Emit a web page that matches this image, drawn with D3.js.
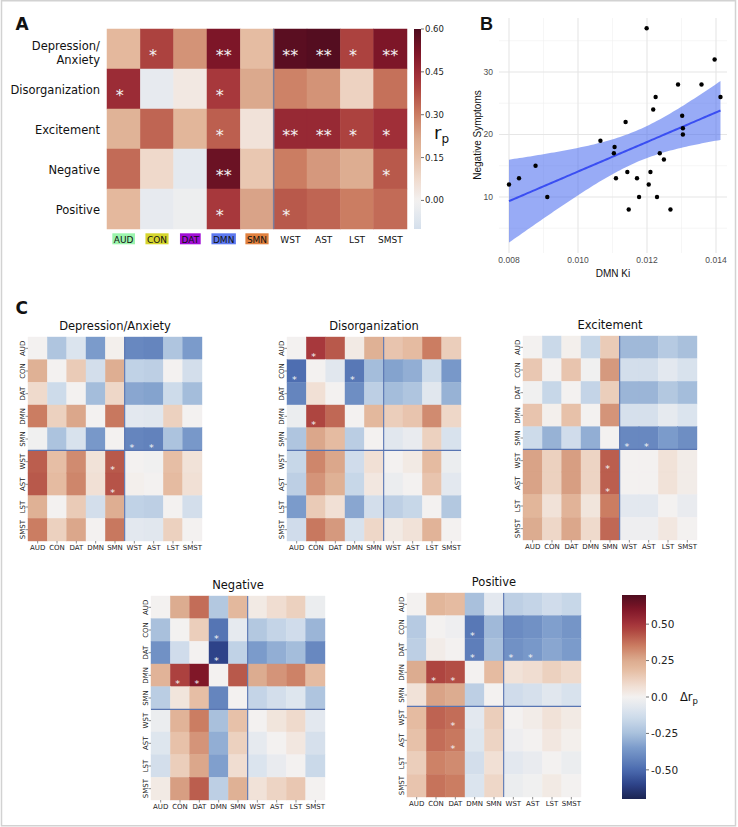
<!DOCTYPE html>
<html><head><meta charset="utf-8">
<script src="https://cdn.jsdelivr.net/npm/d3@7"></script>
<style>body{margin:0;background:#fff}svg{display:block}</style>
</head><body>
<svg id="c" width="738" height="827"></svg>
<script>
// ---------------- DATA ----------------
const networks = ["AUD","CON","DAT","DMN","SMN","WST","AST","LST","SMST"];
const symptoms = ["Depression/Anxiety","Disorganization","Excitement","Negative","Positive"];

// Panel A: partial correlations r_p (rows = symptoms, cols = networks)
const rpDepression      = [0.17, 0.40, 0.26, 0.52, 0.16, 0.58, 0.59, 0.40, 0.52];
const rpDisorganization = [0.45,-0.04, 0.03, 0.42, 0.22, 0.29, 0.26, 0.10, 0.32];
const rpExcitement      = [0.19, 0.34, 0.18, 0.35, 0.05, 0.46, 0.46, 0.40, 0.44];
const rpNegative        = [0.33, 0.08,-0.05, 0.55, 0.13, 0.30, 0.25, 0.21, 0.36];
const rpPositive        = [0.17,-0.04,-0.02, 0.42, 0.23, 0.36, 0.34, 0.30, 0.33];
const starsDepression      = ["","*","","**","","**","**","*","**"];
const starsDisorganization = ["*","","","*","","","","",""];
const starsExcitement      = ["","","","*","","**","**","*","*"];
const starsNegative        = ["","","","**","","","","","*"];
const starsPositive        = ["","","","*","","*","","",""];
const rpTickValues = [0.60, 0.45, 0.30, 0.15, 0.00];
const rpTickLabels = ["0.60","0.45","0.30","0.15","0.00"];

// Panel B: scatter
const dmnKi = [0.00800,0.00829,0.00877,0.00911,0.01065,0.01106,0.01104,0.01110,0.01138,0.01143,0.01147,0.01171,0.01177,0.01199,0.01205,0.01210,0.01218,0.01225,0.01229,0.01237,0.01249,0.01268,0.01290,0.01302,0.01304,0.01304,0.01358,0.01396,0.01413];
const negSymptoms = [12,13,15,10,19,18,17,13,22,14,8,13,10,37,12,14,24,26,10,17,16,8,28,23,21,20,28,32,26];
const bXTicks = [0.008, 0.010, 0.012, 0.014];
const bXTickLabels = ["0.008","0.010","0.012","0.014"];
const bXMinor = [0.009, 0.011, 0.013];
const bYTicks = [10, 20, 30];
const bYMinor = [5, 15, 25, 35];

// Panel C: differences in r_p between networks (row minus column)
const deltaDepression = [
 [ 0.00,-0.23,-0.09,-0.35, 0.01,-0.41,-0.42,-0.23,-0.35],
 [ 0.23, 0.00, 0.14,-0.12, 0.24,-0.18,-0.19, 0.00,-0.12],
 [ 0.09,-0.14, 0.00,-0.26, 0.10,-0.32,-0.33,-0.14,-0.26],
 [ 0.35, 0.12, 0.26, 0.00, 0.36,-0.06,-0.07, 0.12, 0.00],
 [-0.01,-0.24,-0.10,-0.36, 0.00,-0.42,-0.43,-0.24,-0.36],
 [ 0.41, 0.18, 0.32, 0.06, 0.42, 0.00,-0.01, 0.18, 0.06],
 [ 0.42, 0.19, 0.33, 0.07, 0.43, 0.01, 0.00, 0.19, 0.07],
 [ 0.23, 0.00, 0.14,-0.12, 0.24,-0.18,-0.19, 0.00,-0.12],
 [ 0.35, 0.12, 0.26, 0.00, 0.36,-0.06,-0.07, 0.12, 0.00]];
const deltaDisorganization = [
 [ 0.00, 0.49, 0.42, 0.03, 0.23, 0.16, 0.19, 0.35, 0.13],
 [-0.49, 0.00,-0.07,-0.46,-0.26,-0.33,-0.30,-0.14,-0.36],
 [-0.42, 0.07, 0.00,-0.39,-0.19,-0.26,-0.23,-0.07,-0.29],
 [-0.03, 0.46, 0.39, 0.00, 0.20, 0.13, 0.16, 0.32, 0.10],
 [-0.23, 0.26, 0.19,-0.20, 0.00,-0.07,-0.04, 0.12,-0.10],
 [-0.16, 0.33, 0.26,-0.13, 0.07, 0.00, 0.03, 0.19,-0.03],
 [-0.19, 0.30, 0.23,-0.16, 0.04,-0.03, 0.00, 0.16,-0.06],
 [-0.35, 0.14, 0.07,-0.32,-0.12,-0.19,-0.16, 0.00,-0.22],
 [-0.13, 0.36, 0.29,-0.10, 0.10, 0.03, 0.06, 0.22, 0.00]];
const deltaExcitement = [
 [ 0.00,-0.15, 0.01,-0.16, 0.14,-0.27,-0.27,-0.21,-0.25],
 [ 0.15, 0.00, 0.16,-0.01, 0.29,-0.12,-0.12,-0.06,-0.10],
 [-0.01,-0.16, 0.00,-0.17, 0.13,-0.28,-0.28,-0.22,-0.26],
 [ 0.16, 0.01, 0.17, 0.00, 0.30,-0.11,-0.11,-0.05,-0.09],
 [-0.14,-0.29,-0.13,-0.30, 0.00,-0.41,-0.41,-0.35,-0.39],
 [ 0.27, 0.12, 0.28, 0.11, 0.41, 0.00, 0.00, 0.06, 0.02],
 [ 0.27, 0.12, 0.28, 0.11, 0.41, 0.00, 0.00, 0.06, 0.02],
 [ 0.21, 0.06, 0.22, 0.05, 0.35,-0.06,-0.06, 0.00,-0.04],
 [ 0.25, 0.10, 0.26, 0.09, 0.39,-0.02,-0.02, 0.04, 0.00]];
const deltaNegative = [
 [ 0.00, 0.25, 0.38,-0.22, 0.20, 0.03, 0.08, 0.12,-0.03],
 [-0.25, 0.00, 0.13,-0.47,-0.05,-0.22,-0.17,-0.13,-0.28],
 [-0.38,-0.13, 0.00,-0.60,-0.18,-0.35,-0.30,-0.26,-0.41],
 [ 0.22, 0.47, 0.60, 0.00, 0.42, 0.25, 0.30, 0.34, 0.19],
 [-0.20, 0.05, 0.18,-0.42, 0.00,-0.17,-0.12,-0.08,-0.23],
 [-0.03, 0.22, 0.35,-0.25, 0.17, 0.00, 0.05, 0.09,-0.06],
 [-0.08, 0.17, 0.30,-0.30, 0.12,-0.05, 0.00, 0.04,-0.11],
 [-0.12, 0.13, 0.26,-0.34, 0.08,-0.09,-0.04, 0.00,-0.15],
 [ 0.03, 0.28, 0.41,-0.19, 0.23, 0.06, 0.11, 0.15, 0.00]];
const deltaPositive = [
 [ 0.00, 0.21, 0.19,-0.25,-0.06,-0.19,-0.17,-0.13,-0.16],
 [-0.21, 0.00,-0.02,-0.46,-0.27,-0.40,-0.38,-0.34,-0.37],
 [-0.19, 0.02, 0.00,-0.44,-0.25,-0.38,-0.36,-0.32,-0.35],
 [ 0.25, 0.46, 0.44, 0.00, 0.19, 0.06, 0.08, 0.12, 0.09],
 [ 0.06, 0.27, 0.25,-0.19, 0.00,-0.13,-0.11,-0.07,-0.10],
 [ 0.19, 0.40, 0.38,-0.06, 0.13, 0.00, 0.02, 0.06, 0.03],
 [ 0.17, 0.38, 0.36,-0.08, 0.11,-0.02, 0.00, 0.04, 0.01],
 [ 0.13, 0.34, 0.32,-0.12, 0.07,-0.06,-0.04, 0.00,-0.03],
 [ 0.16, 0.37, 0.35,-0.09, 0.10,-0.03,-0.01, 0.03, 0.00]];
const starsDeltaDepression = [[4,5],[4,6],[5,4],[6,4]];
const starsDeltaDisorganization = [[0,1],[1,0],[1,3],[3,1]];
const starsDeltaExcitement = [[4,5],[4,6],[5,4],[6,4]];
const starsDeltaNegative = [[1,3],[2,3],[3,1],[3,2]];
const starsDeltaPositive = [[1,3],[2,3],[2,5],[2,6],[3,1],[3,2],[5,2],[6,2]];
const deltaTickValues = [0.50, 0.25, 0.00, -0.25, -0.50];
const deltaTickLabels = ["0.50","0.25","0.0","-0.25","-0.50"];

// ---------------- STYLE ----------------
const FONT = "'DejaVu Sans', sans-serif";
const RFONT = "'Liberation Sans', Arial, sans-serif";
const stopT = [0,0.07,0.14,0.25,0.32,0.39,0.44,0.5,0.56,0.64,0.68,0.75,0.82,0.86,0.93,1];
const stopC = ["#1b2452","#2d4288","#4a6aae","#7b9bcb","#a8c0dc","#c9d8e9","#dde5ee","#f3f1f0",
               "#f0dccf","#e4b99e","#dcab8f","#cb7d62","#b14a42","#a3323a","#7f1628","#4e0c1f"];
function cmap(vmax){
  return d3.scaleLinear().domain(stopT.map(t=>-vmax+2*vmax*t)).range(stopC)
    .interpolate(d3.interpolateRgb).clamp(true);
}
const netBg = {AUD:"#9cf5ad", CON:"#d6d62e", DAT:"#a20fd6", DMN:"#5d79ef", SMN:"#e0813f"};

const svg = d3.select("#c");
const defs = svg.append("defs");
svg.append("rect").attr("x",1.5).attr("y",0.75).attr("width",734).attr("height",825)
  .attr("fill","none").attr("stroke","#d2d2d2").attr("stroke-width",1.5);

function gradient(id, scale, lo, hi){
  const g = defs.append("linearGradient").attr("id",id)
    .attr("x1",0).attr("y1",1).attr("x2",0).attr("y2",0);
  d3.range(41).forEach(i=>{
    const v = lo + (hi-lo)*i/40;
    g.append("stop").attr("offset",(i/40*100)+"%").attr("stop-color",scale(v));
  });
}

// ---------------- PANEL A ----------------
(function(){
  const colA = cmap(0.6);
  const rows = [rpDepression, rpDisorganization, rpExcitement, rpNegative, rpPositive];
  const stars = [starsDepression, starsDisorganization, starsExcitement, starsNegative, starsPositive];
  const x = d3.scaleBand().domain(networks).range([107,407]);
  const y = d3.scaleBand().domain(symptoms).range([29,229]);
  const g = svg.append("g");
  symptoms.forEach((s,i)=>networks.forEach((n,j)=>{
    const c = colA(rows[i][j]);
    g.append("rect").attr("x",x(n)).attr("y",y(s)).attr("width",x.bandwidth()).attr("height",y.bandwidth())
      .attr("fill",c).attr("stroke",c).attr("stroke-width",0.5);
  }));
  symptoms.forEach((s,i)=>networks.forEach((n,j)=>{
    const st = stars[i][j]; if(!st) return;
    const fs = 16;
    const cx = x(n)+x.bandwidth()/2 - (st.length===1 ? 0.25*fs : 0);
    const cy = y(s)+y.bandwidth()/2 + 3 + 0.55*fs;
    g.append("text").attr("x",cx).attr("y",cy).attr("text-anchor","middle")
      .attr("font-family",FONT).attr("font-size",fs).attr("fill","#f4f4f4").text(st);
  }));
  // separator
  g.append("line").attr("x1",x("WST")).attr("x2",x("WST")).attr("y1",29).attr("y2",229)
    .attr("stroke","#7b7e9c").attr("stroke-width",1.5);
  // y labels
  symptoms.forEach(s=>{
    const cy = y(s)+y.bandwidth()/2;
    if(s==="Depression/Anxiety"){
      g.append("text").attr("x",100).attr("y",50).attr("text-anchor","end").attr("font-family",FONT).attr("font-size",11.5).attr("fill","#111").text("Depression/");
      g.append("text").attr("x",100).attr("y",63.5).attr("text-anchor","end").attr("font-family",FONT).attr("font-size",11.5).attr("fill","#111").text("Anxiety");
    } else {
      g.append("text").attr("x",100).attr("y",cy+5).attr("text-anchor","end").attr("font-family",FONT).attr("font-size",11.5).attr("fill","#111").text(s);
    }
  });
  // x labels
  networks.forEach(n=>{
    const cx = x(n)+x.bandwidth()/2;
    const t = g.append("text").attr("x",cx).attr("y",242.5).attr("text-anchor","middle")
      .attr("font-family",FONT).attr("font-size",9).attr("fill","#111").text(n);
    if(netBg[n]){
      const w = t.node().getComputedTextLength()+3;
      g.insert("rect","text").attr("x",cx-w/2).attr("y",233.3).attr("width",w).attr("height",11)
        .attr("fill",netBg[n]);
    }
  });
  // colorbar
  gradient("gA", colA, -0.1, 0.6);
  const cy = d3.scaleLinear().domain([-0.1,0.6]).range([229,29]);
  g.append("rect").attr("x",414).attr("y",29).attr("width",7).attr("height",200).attr("fill","url(#gA)");
  rpTickValues.forEach((v,i)=>{
    g.append("line").attr("x1",421).attr("x2",424).attr("y1",cy(v)).attr("y2",cy(v)).attr("stroke","#333").attr("stroke-width",0.7);
    g.append("text").attr("x",425).attr("y",cy(v)).attr("dy","0.35em").attr("font-family",FONT)
      .attr("font-size",8.5).attr("fill","#222").text(rpTickLabels[i]);
  });
  const rl = g.append("text").attr("x",434).attr("y",139).attr("font-family",FONT).attr("font-size",18).attr("fill","#111");
  rl.append("tspan").text("r");
  rl.append("tspan").attr("font-size",12).attr("dy",4).text("p");
  svg.append("text").attr("x",15.5).attr("y",29.5).attr("font-family",FONT).attr("font-weight","bold")
    .attr("font-size",17).attr("fill","#111").text("A");
})();

// ---------------- PANEL B ----------------
(function(){
  const x = d3.scaleLinear().domain([0.008,0.014]).range([509,716]);
  const y = d3.scaleLinear().domain([10,30]).range([197,72]);
  const L=499, R=727, T=18, B=253;
  const g = svg.append("g");
  bXMinor.forEach(v=>g.append("line").attr("x1",x(v)).attr("x2",x(v)).attr("y1",T).attr("y2",B).attr("stroke","#f0f0f0").attr("stroke-width",0.6));
  bYMinor.forEach(v=>g.append("line").attr("x1",L).attr("x2",R).attr("y1",y(v)).attr("y2",y(v)).attr("stroke","#f0f0f0").attr("stroke-width",0.6));
  bXTicks.forEach(v=>g.append("line").attr("x1",x(v)).attr("x2",x(v)).attr("y1",T).attr("y2",B).attr("stroke","#e6e6e6").attr("stroke-width",1.1));
  bYTicks.forEach(v=>g.append("line").attr("x1",L).attr("x2",R).attr("y1",y(v)).attr("y2",y(v)).attr("stroke","#e6e6e6").attr("stroke-width",1.1));
  // linear fit with 95% CI
  const n = dmnKi.length;
  const mx = d3.mean(dmnKi), my = d3.mean(negSymptoms);
  let sxx=0, sxy=0;
  dmnKi.forEach((xi,i)=>{ sxx += (xi-mx)**2; sxy += (xi-mx)*(negSymptoms[i]-my); });
  const b = sxy/sxx, a = my - b*mx;
  let rss=0; dmnKi.forEach((xi,i)=>{ rss += (negSymptoms[i]-(a+b*xi))**2; });
  const s = Math.sqrt(rss/(n-2)), tq = 2.052;
  const x0 = d3.min(dmnKi), x1 = d3.max(dmnKi);
  const grid = d3.range(81).map(i=>x0+(x1-x0)*i/80);
  const band = grid.map(xv=>{ const f=a+b*xv; const se=s*Math.sqrt(1/n+(xv-mx)**2/sxx); return [xv,f-tq*se,f+tq*se]; });
  g.append("path").datum(band).attr("d",d3.area().x(d=>x(d[0])).y0(d=>y(d[1])).y1(d=>y(d[2])))
    .attr("fill","#4466ee").attr("fill-opacity",0.55);
  g.append("path").datum(grid).attr("d",d3.line().x(d=>x(d)).y(d=>y(a+b*d)))
    .attr("fill","none").attr("stroke","#3a4ef2").attr("stroke-width",2);
  dmnKi.forEach((xi,i)=>g.append("circle").attr("cx",x(xi)).attr("cy",y(negSymptoms[i])).attr("r",2.2).attr("fill","#000"));
  bXTicks.forEach((v,i)=>g.append("text").attr("x",x(v)).attr("y",260).attr("dy","0.35em").attr("text-anchor","middle")
    .attr("font-family",RFONT).attr("font-size",8.5).attr("fill","#4d4d4d").text(bXTickLabels[i]));
  bYTicks.forEach(v=>g.append("text").attr("x",493).attr("y",y(v)).attr("dy","0.35em").attr("text-anchor","end")
    .attr("font-family",RFONT).attr("font-size",8.5).attr("fill","#4d4d4d").text(v));
  g.append("text").attr("x",(L+R)/2).attr("y",273).attr("dy","0.35em").attr("text-anchor","middle")
    .attr("font-family",RFONT).attr("font-size",10).attr("fill","#111").text("DMN Ki");
  g.append("text").attr("transform","translate(477,135) rotate(-90)").attr("dy","0.35em").attr("text-anchor","middle")
    .attr("font-family",RFONT).attr("font-size",10).attr("fill","#111").text("Negative Symptoms");
  svg.append("text").attr("x",480).attr("y",30).attr("font-family",RFONT).attr("font-weight","bold")
    .attr("font-size",18).attr("fill","#111").text("B");
})();

// ---------------- PANEL C ----------------
const colC = cmap(0.7);
function drawDelta(title, mat, stars, px, py){
  const W=174, H=204;
  const x = d3.scaleBand().domain(networks).range([px,px+W]);
  const y = d3.scaleBand().domain(networks).range([py,py+H]);
  const g = svg.append("g");
  networks.forEach((r,i)=>networks.forEach((c,j)=>{
    const col = colC(mat[i][j]);
    g.append("rect").attr("x",x(c)).attr("y",y(r)).attr("width",x.bandwidth()).attr("height",y.bandwidth())
      .attr("fill",col).attr("stroke",col).attr("stroke-width",0.4);
  }));
  g.append("line").attr("x1",x("WST")).attr("x2",x("WST")).attr("y1",py).attr("y2",py+H).attr("stroke","#5875b2").attr("stroke-width",1.1);
  g.append("line").attr("x1",px).attr("x2",px+W).attr("y1",y("WST")).attr("y2",y("WST")).attr("stroke","#5875b2").attr("stroke-width",1.1);
  stars.forEach(([i,j])=>{
    const fs=9.5;
    g.append("text").attr("x",x(networks[j])+x.bandwidth()/2-0.25*fs)
      .attr("y",y(networks[i])+y.bandwidth()/2+6.3+0.55*fs).attr("text-anchor","middle")
      .attr("font-family",FONT).attr("font-size",fs).attr("fill","#f4f4f4").text("*");
  });
  networks.forEach(n=>{
    const cy = y(n)+y.bandwidth()/2, cx = x(n)+x.bandwidth()/2;
    g.append("line").attr("x1",px-2.5).attr("x2",px).attr("y1",cy).attr("y2",cy).attr("stroke","#444").attr("stroke-width",0.6);
    g.append("line").attr("x1",cx).attr("x2",cx).attr("y1",py+H).attr("y2",py+H+2.5).attr("stroke","#444").attr("stroke-width",0.6);
    g.append("text").attr("transform",`translate(${px-5},${cy}) rotate(-90)`).attr("dy","0.35em").attr("text-anchor","middle")
      .attr("font-family",FONT).attr("font-size",7).attr("fill","#222").text(n);
    g.append("text").attr("x",cx).attr("y",py+H+8.8).attr("text-anchor","middle")
      .attr("font-family",FONT).attr("font-size",7).attr("fill","#222").text(n);
  });
  g.append("text").attr("x",px+W/2).attr("y",py-7.5).attr("text-anchor","middle")
    .attr("font-family",FONT).attr("font-size",11.5).attr("fill","#111").text(title);
}
drawDelta("Depression/Anxiety", deltaDepression, starsDeltaDepression, 28, 337);
drawDelta("Disorganization", deltaDisorganization, starsDeltaDisorganization, 287, 337);
drawDelta("Excitement", deltaExcitement, starsDeltaExcitement, 523, 336);
drawDelta("Negative", deltaNegative, starsDeltaNegative, 151, 596);
drawDelta("Positive", deltaPositive, starsDeltaPositive, 407, 593);
svg.append("text").attr("x",15.5).attr("y",313.5).attr("font-family",FONT).attr("font-weight","bold")
  .attr("font-size",17).attr("fill","#111").text("C");

// colorbar C
(function(){
  gradient("gC", colC, -0.7, 0.7);
  const cy = d3.scaleLinear().domain([-0.7,0.7]).range([799,595]);
  const g = svg.append("g");
  g.append("rect").attr("x",622).attr("y",595).attr("width",24).attr("height",204).attr("fill","url(#gC)");
  deltaTickValues.forEach((v,i)=>{
    g.append("line").attr("x1",646).attr("x2",649).attr("y1",cy(v)).attr("y2",cy(v)).attr("stroke","#333").attr("stroke-width",0.7);
    g.append("text").attr("x",651).attr("y",cy(v)).attr("dy","0.35em").attr("font-family",FONT)
      .attr("font-size",10.5).attr("fill","#222").text(deltaTickLabels[i]);
  });
  const t = g.append("text").attr("x",680).attr("y",cy(0)).attr("dy","0.35em").attr("font-family",FONT).attr("font-size",11.5).attr("fill","#111");
  t.append("tspan").text("Δr");
  t.append("tspan").attr("font-size",8.5).attr("dy",3).text("p");
})();
</script>
</body></html>
